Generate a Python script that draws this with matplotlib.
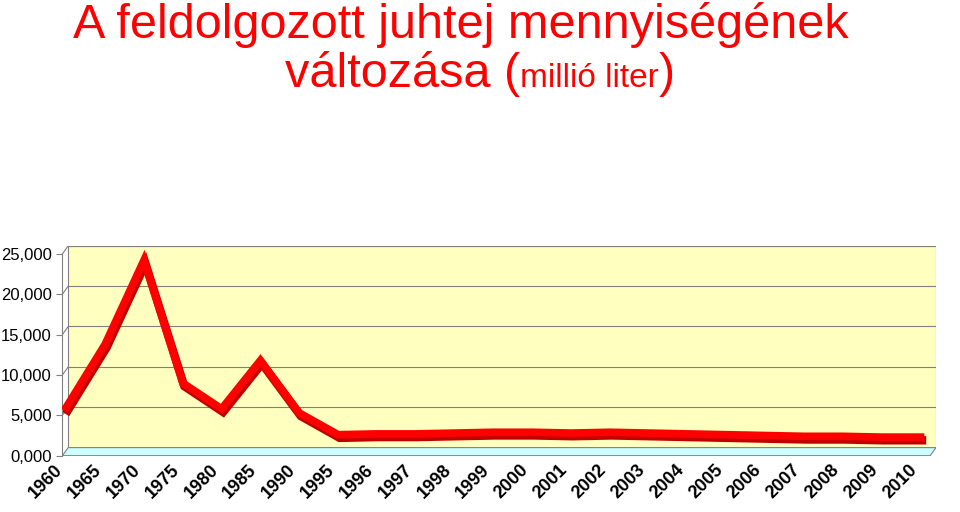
import matplotlib
matplotlib.use("Agg")
import matplotlib.pyplot as plt
from matplotlib.patches import Polygon

years = ["1960","1965","1970","1975","1980","1985","1990","1995","1996","1997","1998",
         "1999","2000","2001","2002","2003","2004","2005","2006","2007","2008","2009","2010"]
values = [5.0, 12.8, 23.2, 8.0, 4.8, 10.8, 4.3, 1.6, 1.7, 1.7, 1.8, 1.9, 1.9, 1.8, 1.9,
          1.8, 1.7, 1.6, 1.5, 1.4, 1.4, 1.3, 1.3]
yticks = [0, 5, 10, 15, 20, 25]
ylabels = ["0,000", "5,000", "10,000", "15,000", "20,000", "25,000"]

fig = plt.figure(figsize=(9.6, 5.12), dpi=100)
fig.patch.set_facecolor("white")
ax = fig.add_axes([0.065, 0.11, 0.91, 0.41])
ax.set_xlim(-0.1, len(years) - 0.9 + 0.3)
ax.set_ylim(-1.0, 25)
ax.set_facecolor("white")
xr = ax.get_xlim()
ax.add_patch(Polygon([(xr[0] + 0.15, 0), (xr[1], 0), (xr[1], 25), (xr[0] + 0.15, 25)],
                     closed=True, facecolor="#FFFFC0", edgecolor="#808080", lw=0.8, zorder=0))
ax.add_patch(Polygon([(xr[0], -1.0), (xr[1] - 0.15, -1.0), (xr[1], 0), (xr[0] + 0.15, 0)],
                     closed=True, facecolor="#CCFFFF", edgecolor="#808080", lw=0.8, zorder=0))
for t in yticks[1:]:
    ax.plot([xr[0], xr[0] + 0.15], [t - 1.0, t], color="#808080", lw=0.8, zorder=1)
    ax.plot([xr[0] + 0.15, xr[1]], [t, t], color="#808080", lw=0.8, zorder=1)
x = list(range(len(years)))
ax.plot([i + 0.04 for i in x], [v - 0.4 for v in values], color="#C00000", lw=6, zorder=2,
        solid_joinstyle="miter")
ax.plot(x, values, color="#FF0000", lw=5.5, zorder=3, solid_joinstyle="miter")
for s in ["top", "right", "bottom"]:
    ax.spines[s].set_visible(False)
ax.spines["left"].set_bounds(-1.0, 24)
ax.spines["left"].set_color("#808080")
ax.set_yticks([t - 1.0 for t in yticks])
ax.set_yticklabels(ylabels, fontsize=12, family="Liberation Sans")
ax.tick_params(axis="y", length=4, color="#808080")
ax.set_xticks(x)
ax.set_xticklabels(years, rotation=45, fontsize=13, fontweight="bold",
                   family="Liberation Sans", ha="right", va="top")
ax.tick_params(axis="x", length=0, pad=4)

fs = dict(color="#FF0000", family="Liberation Sans", va="baseline")
fig.text(0.48, 0.925, "A feldolgozott juhtej mennyiségének", fontsize=35, ha="center", **fs)
fig.canvas.draw()
r = fig.canvas.get_renderer()
yb = 0.83
t1 = fig.text(0.297, yb, "változása (", fontsize=35, ha="left", **fs)
x1 = t1.get_window_extent(r).x1 / fig.bbox.width
t2 = fig.text(x1, yb, "millió liter", fontsize=24, ha="left", **fs)
x2 = t2.get_window_extent(r).x1 / fig.bbox.width
fig.text(x2, yb, ")", fontsize=35, ha="left", **fs)
fig.savefig("out.png", dpi=100)
